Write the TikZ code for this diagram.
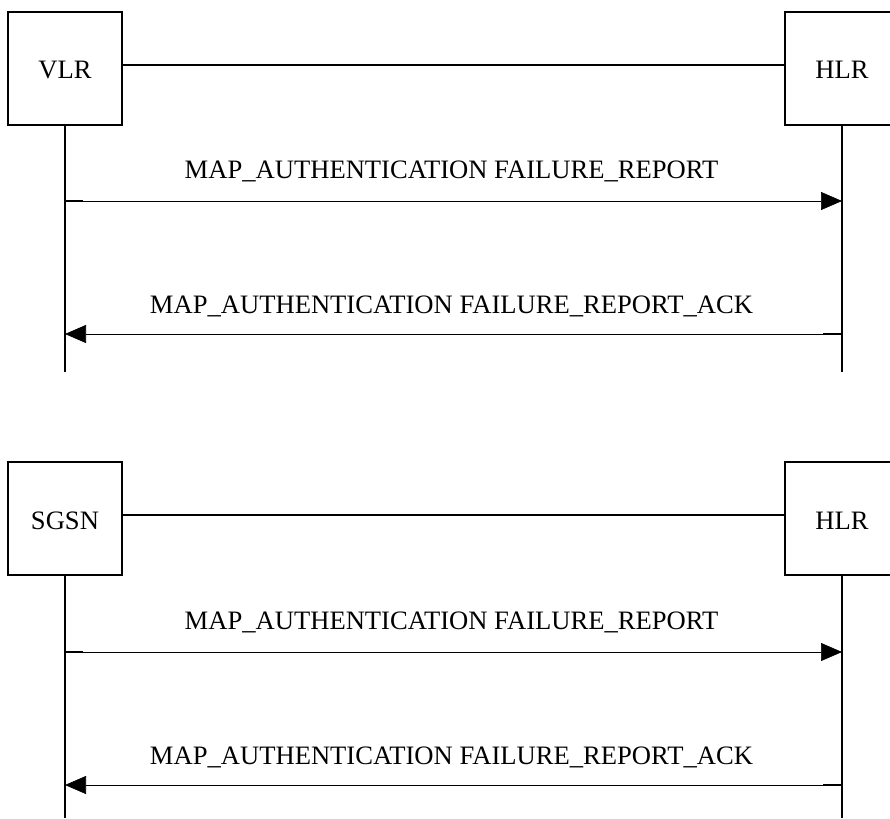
\documentclass[tikz,border=0pt]{standalone}
\usepackage{fontspec}
\setmainfont{Liberation Serif}
\usetikzlibrary{arrows.meta}
\begin{document}
\begin{tikzpicture}[x=1pt,y=-1pt,
  ent/.style={draw,line width=1.3pt,minimum width=114pt,minimum height=113pt,inner sep=0pt,text height=21pt,text depth=0pt,font=\fontsize{26.6}{30}\selectfont},
  life/.style={line width=1.3pt},
  msg/.style={line width=0.7pt,-{Triangle[length=21pt,width=18pt]}},
  stub/.style={line width=1.3pt},
  lbl/.style={anchor=base,font=\fontsize{26.6}{30}\selectfont,inner sep=0pt}]
\useasboundingbox (0,0) rectangle (890,818);
% ---------- first diagram ----------
\node[ent] (vlr) at (65,68.5) {VLR};
\node[ent] (hlr1) at (842,68.5) {HLR};
\coordinate (c1a) at (122,65);
\coordinate (c1b) at (785,65);
\draw[life] (c1a) -- (c1b);
\coordinate (v1end) at (65,372);
\coordinate (h1end) at (842,372);
\draw[life] (vlr.south) -- (v1end);
\draw[life] (hlr1.south) -- (h1end);
\coordinate (m1s) at (65,201);
\coordinate (m1e) at (842,201);
\draw[msg] (m1s) -- (m1e);
\draw[stub] (m1s) -- ++(18,0);
\node[lbl] (l1) at (451.5,179) {MAP\_AUTHENTICATION FAILURE\_REPORT};
\coordinate (m2s) at (842,334);
\coordinate (m2e) at (65,334);
\draw[msg] (m2s) -- (m2e);
\draw[stub] (m2s) -- ++(-19,0);
\node[lbl] (l2) at (451.5,313) {MAP\_AUTHENTICATION FAILURE\_REPORT\_ACK};
% ---------- second diagram ----------
\node[ent] (sgsn) at (65,518.5) {SGSN};
\node[ent] (hlr2) at (842,518.5) {HLR};
\coordinate (c2a) at (122,515);
\coordinate (c2b) at (785,515);
\draw[life] (c2a) -- (c2b);
\coordinate (v2end) at (65,818);
\coordinate (h2end) at (842,818);
\draw[life] (sgsn.south) -- (v2end);
\draw[life] (hlr2.south) -- (h2end);
\coordinate (m3s) at (65,652);
\coordinate (m3e) at (842,652);
\draw[msg] (m3s) -- (m3e);
\draw[stub] (m3s) -- ++(18,0);
\node[lbl] (l3) at (451.5,629) {MAP\_AUTHENTICATION FAILURE\_REPORT};
\coordinate (m4s) at (842,785);
\coordinate (m4e) at (65,785);
\draw[msg] (m4s) -- (m4e);
\draw[stub] (m4s) -- ++(-19,0);
\node[lbl] (l4) at (451.5,764) {MAP\_AUTHENTICATION FAILURE\_REPORT\_ACK};
\end{tikzpicture}
\end{document}
